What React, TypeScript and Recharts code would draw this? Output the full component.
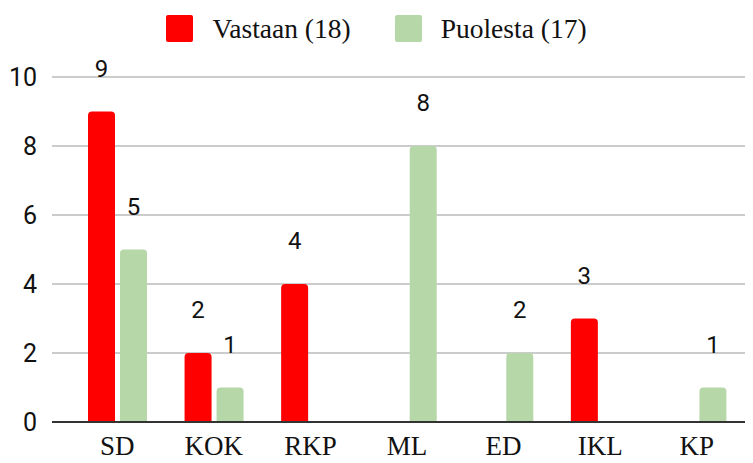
import React from "react";
import { BarChart, Bar, XAxis, YAxis, CartesianGrid, Legend, LabelList } from "recharts";

const parties = ["SD", "KOK", "RKP", "ML", "ED", "IKL", "KP"];
const vastaan: (number | null)[] = [9, 2, 4, null, null, 3, null];
const puolesta: (number | null)[] = [5, 1, null, 8, 2, null, 1];
const yTicks = [0, 2, 4, 6, 8, 10];

const RED = "#ff0000";
const GREEN = "#b6d7a8";
const SERIF = "Liberation Serif, Tinos, Times New Roman, serif";
const SANS = "Roboto, Arial, sans-serif";

const data = parties.map((party, i) => ({
  party,
  vastaan: vastaan[i],
  puolesta: puolesta[i],
}));

const legendItems = [
  { label: "Vastaan (18)", color: RED },
  { label: "Puolesta (17)", color: GREEN },
];

function LegendContent() {
  return (
    <div
      style={{
        height: 72,
        display: "flex",
        justifyContent: "center",
        alignItems: "flex-start",
        gap: 44,
        paddingTop: 10,
        boxSizing: "border-box",
      }}
    >
      {legendItems.map((item) => (
        <div key={item.label} style={{ display: "flex", alignItems: "center", gap: 19 }}>
          <div style={{ width: 27, height: 27, background: item.color, borderRadius: 2 }} />
          <span style={{ fontFamily: SERIF, fontSize: 27.5, color: "#111", lineHeight: "27px" }}>
            {item.label}
          </span>
        </div>
      ))}
    </div>
  );
}

export default function App() {
  return (
    <div style={{ margin: -8, width: 753, height: 463, background: "#fff" }}>
      <BarChart
        width={753}
        height={463}
        data={data}
        margin={{ top: 5, right: 0, bottom: 0, left: 0 }}
        barSize={27}
        barGap={5}
      >
        <Legend verticalAlign="top" content={() => <LegendContent />} />
        <CartesianGrid vertical={false} stroke="#cccccc" strokeWidth={2} />
        <XAxis
          dataKey="party"
          height={41}
          padding={{ left: 17, right: 8 }}
          tickLine={false}
          tickSize={0}
          tickMargin={14}
          axisLine={{ stroke: "#333333", strokeWidth: 2 }}
          tick={{ fontFamily: SERIF, fontSize: 27, fill: "#111" }}
          interval={0}
        />
        <YAxis
          width={52}
          domain={[0, 10]}
          ticks={yTicks}
          tickLine={false}
          axisLine={false}
          tickSize={0}
          tickMargin={15}
          tick={{ fontFamily: SANS, fontSize: 25, fill: "#111" }}
        />
        <Bar dataKey="vastaan" fill={RED} radius={[4, 4, 0, 0]} isAnimationActive={false}>
          <LabelList
            dataKey="vastaan"
            position="top"
            offset={35}
            style={{ fontFamily: SANS, fontSize: 24, fill: "#111" }}
          />
        </Bar>
        <Bar dataKey="puolesta" fill={GREEN} radius={[4, 4, 0, 0]} isAnimationActive={false}>
          <LabelList
            dataKey="puolesta"
            position="top"
            offset={35}
            style={{ fontFamily: SANS, fontSize: 24, fill: "#111" }}
          />
        </Bar>
      </BarChart>
    </div>
  );
}
